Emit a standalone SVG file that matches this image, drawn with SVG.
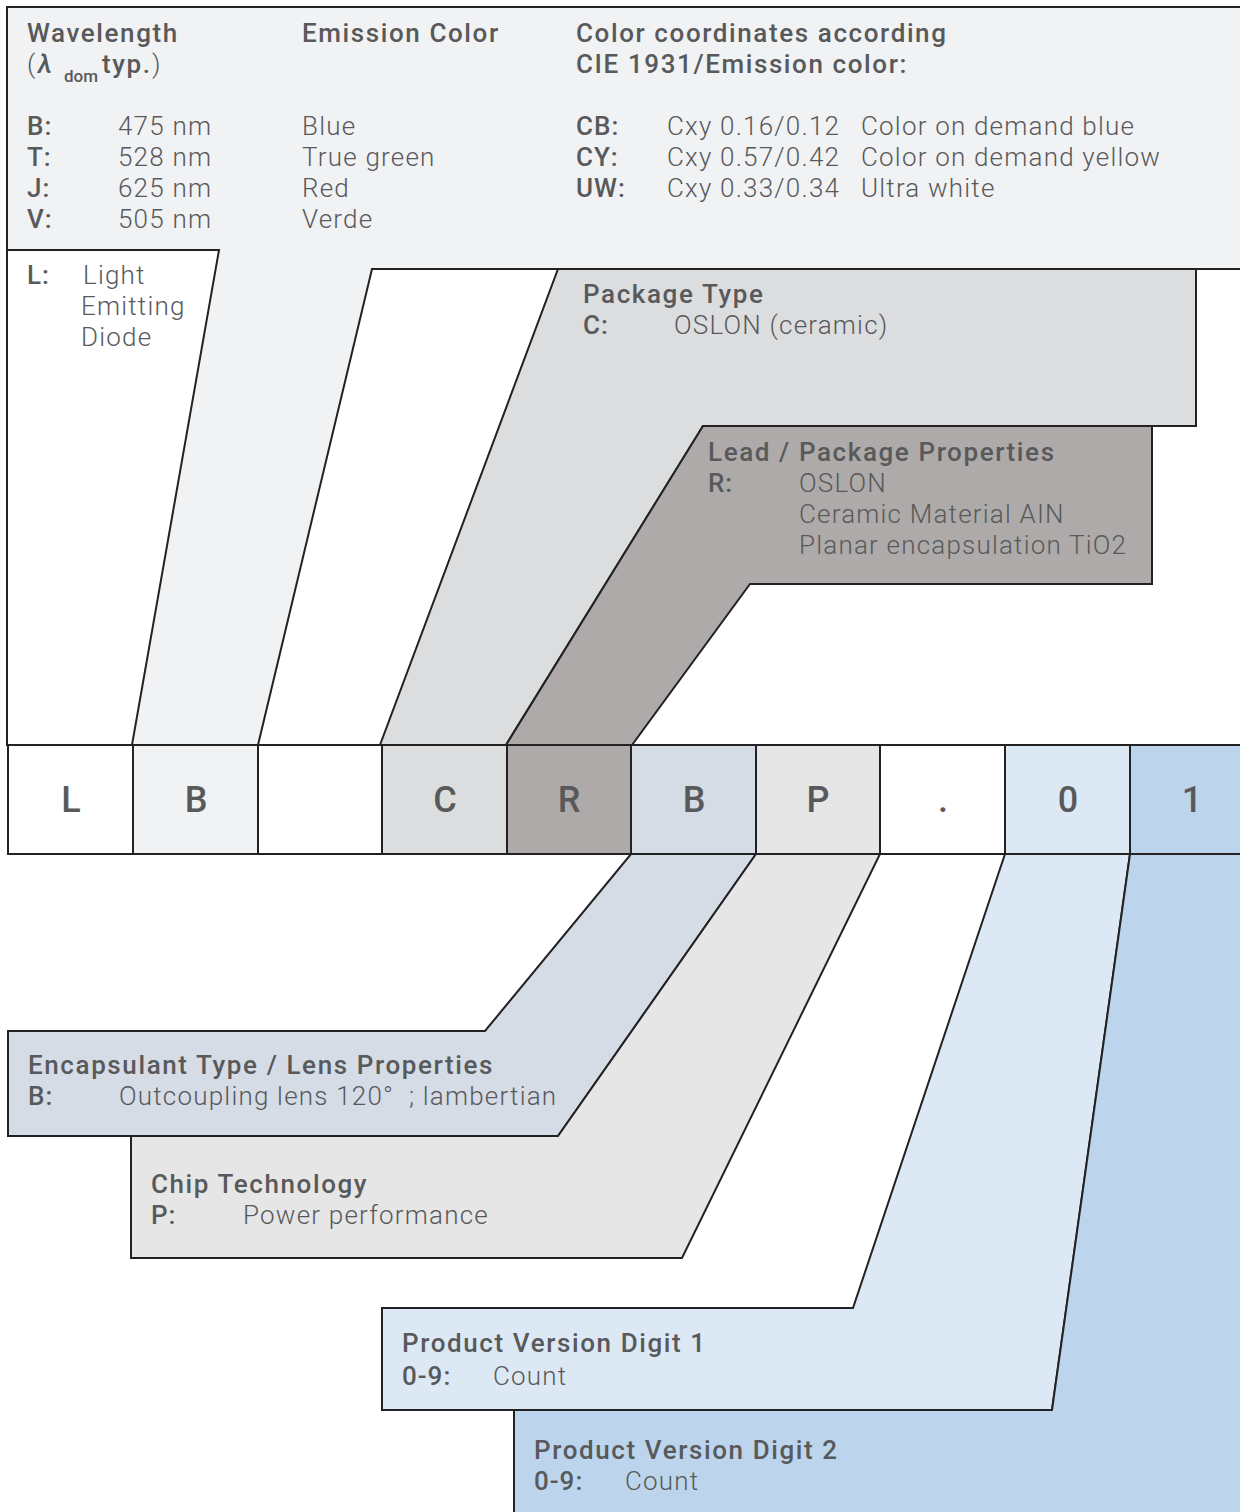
<svg xmlns="http://www.w3.org/2000/svg" width="1240" height="1512" viewBox="0 0 1240 1512">
<style>
.s{stroke:#222;stroke-width:2;stroke-linejoin:miter}
.h{font-family:Roboto,"Liberation Sans",sans-serif;font-weight:500;font-size:26px;letter-spacing:1.6px;fill:#58595b}
.b{font-family:Roboto,"Liberation Sans",sans-serif;font-weight:300;font-size:26px;letter-spacing:1.2px;fill:#58595b}
.k{font-family:Roboto,"Liberation Sans",sans-serif;font-weight:500;font-size:26px;letter-spacing:1px;fill:#58595b}
.c{font-family:Roboto,"Liberation Sans",sans-serif;font-weight:500;font-size:36px;fill:#58595b;text-anchor:middle}
.sub{font-family:Roboto,"Liberation Sans",sans-serif;font-weight:500;font-size:17px;fill:#58595b}
</style>
<rect width="1240" height="1512" fill="#fff"/>
<g id="connectors">
<polygon class="s" fill="#f1f2f4" points="7,7 1243,7 1243,269 372,269 258,745 7,745"/>
<polygon class="s" fill="#fff" points="7,250 219,250 132,745 7,745"/>
<polygon class="s" fill="#dcdddf" points="558,269 1196,269 1196,426 703,426 506,745 380,745"/>
<polygon class="s" fill="#aeaaa9" points="703,426 1152,426 1152,584 750,584 632,745 506,745"/>
<polygon class="s" fill="#d5dce6" points="631,854 756,854 558,1136 8,1136 8,1031 485,1031"/>
<polygon class="s" fill="#e6e6e6" points="756,854 880,854 682,1258 131,1258 131,1136 558,1136"/>
<polygon class="s" fill="#dde8f5" points="1005,854 1130,854 1052,1410 382,1410 382,1308 853,1308"/>
<polygon class="s" fill="#bdd5ec" points="1130,854 1243,854 1243,1515 514,1515 514,1410 1052,1410"/>
</g>
<g id="node-top">
<text class="h" x="27" y="42">Wavelength</text>
<text class="b" x="27" y="73">(</text>
<text class="h" x="38" y="73" font-weight="700" font-style="italic">λ</text>
<text class="sub" x="64" y="82">dom</text>
<text class="h" x="102" y="73">typ.</text>
<text class="b" x="152" y="73">)</text>
<text class="h" x="302" y="42">Emission Color</text>
<text class="h" x="576" y="42">Color coordinates according</text>
<text class="h" x="576" y="73">CIE 1931/Emission color:</text>
<text class="k" x="27" y="135">B:</text>
<text class="k" x="27" y="166">T:</text>
<text class="k" x="27" y="197">J:</text>
<text class="k" x="27" y="228">V:</text>
<text class="b" x="118" y="135">475 nm</text>
<text class="b" x="118" y="166">528 nm</text>
<text class="b" x="118" y="197">625 nm</text>
<text class="b" x="118" y="228">505 nm</text>
<text class="b" x="302" y="135">Blue</text>
<text class="b" x="302" y="166">True green</text>
<text class="b" x="302" y="197">Red</text>
<text class="b" x="302" y="228">Verde</text>
<text class="k" x="576" y="135">CB:</text>
<text class="k" x="576" y="166">CY:</text>
<text class="k" x="576" y="197">UW:</text>
<text class="b" x="667" y="135">Cxy 0.16/0.12</text>
<text class="b" x="667" y="166">Cxy 0.57/0.42</text>
<text class="b" x="667" y="197">Cxy 0.33/0.34</text>
<text class="b" x="861" y="135">Color on demand blue</text>
<text class="b" x="861" y="166">Color on demand yellow</text>
<text class="b" x="861" y="197">Ultra white</text>
</g>
<g id="node-L">
<text class="k" x="27" y="284">L:</text>
<text class="b" x="83" y="284">Light</text>
<text class="b" x="81" y="315">Emitting</text>
<text class="b" x="81" y="346">Diode</text>
</g>
<g id="node-package">
<text class="h" x="583" y="303">Package Type</text>
<text class="k" x="583" y="334">C:</text>
<text class="b" x="674" y="334">OSLON (ceramic)</text>
</g>
<g id="node-lead">
<text class="h" x="708" y="461">Lead / Package Properties</text>
<text class="k" x="708" y="492">R:</text>
<text class="b" x="799" y="492">OSLON</text>
<text class="b" x="799" y="523">Ceramic Material AIN</text>
<text class="b" x="799" y="554">Planar encapsulation TiO2</text>
</g>
<g id="node-code">
<rect class="s" x="8" y="745" width="125" height="109" fill="#fff"/>
<rect class="s" x="133" y="745" width="125" height="109" fill="#f1f2f4"/>
<rect class="s" x="258" y="745" width="124" height="109" fill="#fff"/>
<rect class="s" x="382" y="745" width="125" height="109" fill="#dcdddf"/>
<rect class="s" x="507" y="745" width="124" height="109" fill="#aeaaa9"/>
<rect class="s" x="631" y="745" width="125" height="109" fill="#d5dce6"/>
<rect class="s" x="756" y="745" width="124" height="109" fill="#e6e6e6"/>
<rect class="s" x="880" y="745" width="125" height="109" fill="#fff"/>
<rect class="s" x="1005" y="745" width="125" height="109" fill="#dde8f5"/>
<rect class="s" x="1130" y="745" width="113" height="109" fill="#bdd5ec"/>
<text class="c" x="71" y="812">L</text>
<text class="c" x="196" y="812">B</text>
<text class="c" x="445" y="812">C</text>
<text class="c" x="569" y="812">R</text>
<text class="c" x="694" y="812">B</text>
<text class="c" x="818" y="812">P</text>
<text class="c" x="943" y="812">.</text>
<text class="c" x="1068" y="812">0</text>
<text class="c" x="1192" y="812">1</text>
</g>
<g id="node-encapsulant">
<text class="h" x="28" y="1074">Encapsulant Type / Lens Properties</text>
<text class="k" x="28" y="1105">B:</text>
<text class="b" x="119" y="1105">Outcoupling lens 120°</text>
<text class="b" x="409" y="1105">; lambertian</text>
</g>
<g id="node-chip">
<text class="h" x="151" y="1193">Chip Technology</text>
<text class="k" x="151" y="1224">P:</text>
<text class="b" x="243" y="1224">Power performance</text>
</g>
<g id="node-digit1">
<text class="h" x="402" y="1352">Product Version Digit 1</text>
<text class="k" x="402" y="1385">0-9:</text>
<text class="b" x="493" y="1385">Count</text>
</g>
<g id="node-digit2">
<text class="h" x="534" y="1459">Product Version Digit 2</text>
<text class="k" x="534" y="1490">0-9:</text>
<text class="b" x="625" y="1490">Count</text>
</g>
</svg>
